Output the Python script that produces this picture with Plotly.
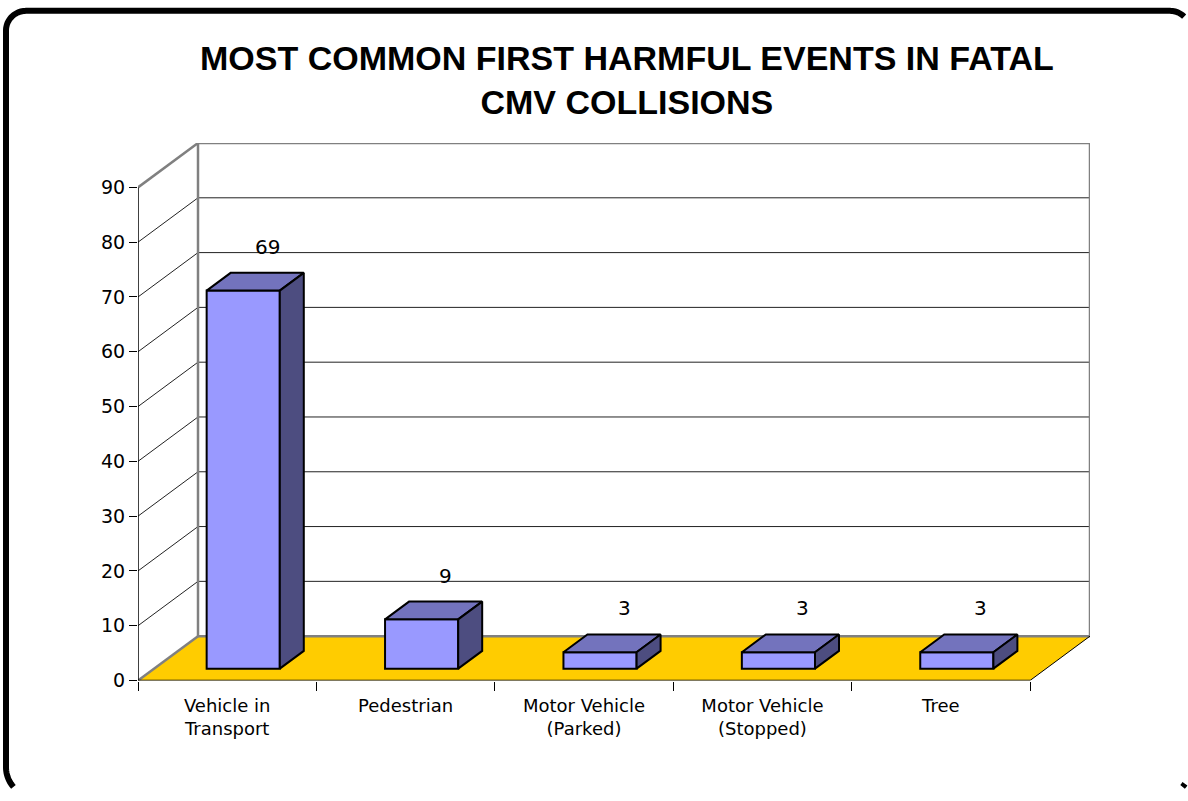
import math
import plotly.graph_objects as go

# Chart data
categories = ["Vehicle in<br>Transport", "Pedestrian", "Motor Vehicle<br>(Parked)",
              "Motor Vehicle<br>(Stopped)", "Tree"]
values = [69, 9, 3, 3, 3]
y_ticks = [0, 10, 20, 30, 40, 50, 60, 70, 80, 90]
title_text = "MOST COMMON FIRST HARMFUL EVENTS IN FATAL<br>CMV COLLISIONS"

# Figure / projection geometry (pixel positions measured from the top-left)
W, H = 1188, 801
X0_PX, Y0_PX = 138, 690          # front-left-bottom corner of the 3D box
CAT_PX = 178.4                   # pixel width of one category
UNIT_PX = 500 / 90               # pixels per value unit
DEPTH_PX_X, DEPTH_PX_Y = 60, 45  # oblique offset of the back wall

n = len(categories)
y_max = y_ticks[-1]
dx = DEPTH_PX_X / CAT_PX         # depth offset in x data units
dy = DEPTH_PX_Y / UNIT_PX        # depth offset in y data units
x_hi = n + dx
y_hi = y_max + dy

bar_w = 0.41                     # bar width (category units)
d_front, d_back = 0.267, 0.667   # bar depth span as fraction of box depth

FRONT = "#9999FF"
TOP = "#7373BD"
SIDE = "#4D4D80"
FLOOR = "#FFCC00"
WALL = "#808080"

fig = go.Figure()

# Front faces of the bars
x_front = [i + 0.5 + d_front * dx for i in range(n)]
fig.add_trace(go.Bar(
    x=x_front, y=values, base=d_front * dy, width=bar_w,
    marker=dict(color=FRONT, line=dict(color="black", width=2)),
    hoverinfo="skip", showlegend=False,
))

# Top and side faces of the bars
ddx = (d_back - d_front) * dx
ddy = (d_back - d_front) * dy
for xc, v in zip(x_front, values):
    xl, xr = xc - bar_w / 2, xc + bar_w / 2
    yb = d_front * dy
    yt = v + yb
    fig.add_trace(go.Scatter(
        x=[xl, xr, xr + ddx, xl + ddx, xl], y=[yt, yt, yt + ddy, yt + ddy, yt],
        mode="lines", fill="toself", fillcolor=TOP,
        line=dict(color="black", width=2), hoverinfo="skip", showlegend=False))
    fig.add_trace(go.Scatter(
        x=[xr, xr + ddx, xr + ddx, xr, xr], y=[yb, yb + ddy, yt + ddy, yt, yb],
        mode="lines", fill="toself", fillcolor=SIDE,
        line=dict(color="black", width=2), hoverinfo="skip", showlegend=False))

shapes = []
# Floor
shapes.append(dict(type="path", xref="x", yref="y", layer="below",
                   path=f"M0,0 L{n},0 L{n + dx},{dy} L{dx},{dy} Z",
                   fillcolor=FLOOR, line=dict(width=0)))
# Gridlines on back wall and side wall
for t in y_ticks[1:-1]:
    shapes.append(dict(type="line", xref="x", yref="y", layer="below",
                       x0=dx, x1=n + dx, y0=t + dy, y1=t + dy,
                       line=dict(color="#222222", width=1)))
    shapes.append(dict(type="line", xref="x", yref="y", layer="below",
                       x0=0, x1=dx, y0=t, y1=t + dy,
                       line=dict(color="#222222", width=1)))
# Wall borders (grey)
shapes.append(dict(type="path", xref="x", yref="y", layer="below",
                   path=f"M{dx},{dy} L{dx},{y_hi} L{x_hi},{y_hi} L{x_hi},{dy} L{dx},{dy}",
                   line=dict(color=WALL, width=2.5)))
shapes.append(dict(type="line", xref="x", yref="y", layer="below",
                   x0=0, y0=y_max, x1=dx, y1=y_hi, line=dict(color=WALL, width=2.5)))
shapes.append(dict(type="line", xref="x", yref="y", layer="below",
                   x0=0, y0=0, x1=dx, y1=dy, line=dict(color=WALL, width=2.5)))
# Floor right edge and axis lines
shapes.append(dict(type="line", xref="x", yref="y", layer="below",
                   x0=n, y0=0, x1=n + dx, y1=dy, line=dict(color="black", width=1)))
shapes.append(dict(type="line", xref="x", yref="y",
                   x0=0, y0=0, x1=0, y1=y_max, line=dict(color="black", width=1.5)))
shapes.append(dict(type="line", xref="x", yref="y",
                   x0=0, y0=0, x1=n, y1=0, line=dict(color="black", width=1.5)))

# Rounded outer frame: the box runs past the right and bottom page edges,
# so only the part of its outline that lies on the page is drawn.
FRAME_W = 6
fl, ft, fr, fb = 6, 11, 1190, 808
r_tl, r_tr, r_br, r_bl = 20, 20, 30, 30


def arc(cx, cy, r, a0, a1, steps=24):
    return [(cx + r * math.cos(math.radians(a0 + (a1 - a0) * k / steps)),
             cy + r * math.sin(math.radians(a0 + (a1 - a0) * k / steps)))
            for k in range(steps + 1)]


outline = []
outline += arc(fl + r_tl, ft + r_tl, r_tl, 180, 270)
outline += arc(fr - r_tr, ft + r_tr, r_tr, 270, 360)
outline += arc(fr - r_br, fb - r_br, r_br, 0, 90)
outline += arc(fl + r_bl, fb - r_bl, r_bl, 90, 180)
outline.append(outline[0])

half = FRAME_W / 2
def inside(p):
    return half <= p[0] <= W - half and half <= p[1] <= H - half

runs, cur = [], []
for p in outline:
    if inside(p):
        cur.append(p)
    elif cur:
        runs.append(cur)
        cur = []
if cur:
    runs.append(cur)
# join the wrap-around run (start and end of the loop are the same corner)
if len(runs) > 1 and outline[0] == runs[0][0] and outline[-1] == runs[-1][-1]:
    runs[0] = runs[-1][:-1] + runs[0]
    runs.pop()

frame_path = ""
for run in runs:
    pts = [f"{x / W:.5f},{1 - y / H:.5f}" for x, y in run]
    frame_path += "M" + " L".join(pts) + " "
shapes.append(dict(type="path", xref="paper", yref="paper", path=frame_path.strip(),
                   line=dict(color="black", width=FRAME_W)))

annotations = []
# Value labels above each bar
for i, v in enumerate(values):
    annotations.append(dict(
        x=i + 0.5 + d_back * dx, y=v + d_back * dy, xref="x", yref="y",
        text=str(v), showarrow=False, yanchor="bottom", yshift=12,
        font=dict(family="DejaVu Sans", size=20, color="black")))
# Title
annotations.append(dict(
    x=627 / W, y=1 - 81 / H, xref="paper", yref="paper",
    text=title_text, showarrow=False, xanchor="center", yanchor="middle",
    font=dict(family="Liberation Sans, Arial", size=34, color="black", weight="bold")))

fig.update_layout(
    width=W, height=H, autosize=False,
    margin=dict(l=0, r=0, t=0, b=0),
    paper_bgcolor="white", plot_bgcolor="rgba(0,0,0,0)",
    shapes=shapes, annotations=annotations, showlegend=False,
    xaxis=dict(
        domain=[X0_PX / W, (X0_PX + x_hi * CAT_PX) / W],
        range=[0, x_hi], showgrid=False, zeroline=False, showline=False,
        tickmode="array", tickvals=[i + 0.5 for i in range(n)], ticktext=categories,
        ticks="", ticklabelstandoff=12,
        tickfont=dict(family="DejaVu Sans", size=18, color="black"),
        minor=dict(tickmode="array", tickvals=list(range(n + 1)), ticks="outside",
                   ticklen=9, tickcolor="black", tickwidth=1, showgrid=False),
        fixedrange=True,
    ),
    yaxis=dict(
        domain=[(H - Y0_PX) / H, (H - Y0_PX + y_hi * UNIT_PX) / H],
        range=[0, y_hi], showgrid=False, zeroline=False, showline=False,
        tickmode="array", tickvals=y_ticks, ticks="outside", ticklen=8,
        tickcolor="black", tickwidth=1,
        tickfont=dict(family="DejaVu Sans", size=19, color="black"),
        fixedrange=True,
    ),
)

fig.write_html("out.html")
